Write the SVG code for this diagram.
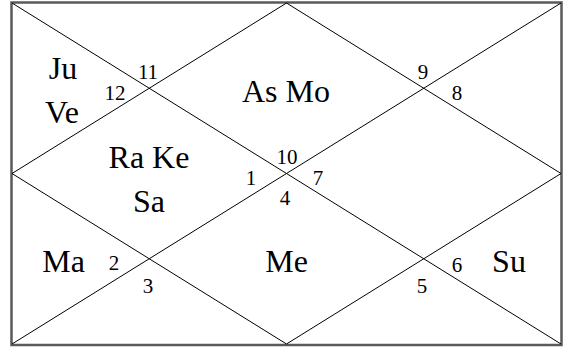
<svg xmlns="http://www.w3.org/2000/svg" width="566" height="347" viewBox="0 0 566 347">
<style>
.ln{stroke:#000;stroke-width:1;fill:none}
text{fill:#000;text-anchor:middle}
.pl{font-size:32px}
.nm{font-size:21px}
</style>
<rect x="0" y="0" width="566" height="347" fill="#fff"/>
<g id="connectors">
<rect x="11.5" y="2.5" width="550" height="342.5" fill="none" stroke="#5a5a5a" stroke-width="2.5"/>
<line class="ln" x1="12" y1="3" x2="561" y2="344"/>
<line class="ln" x1="561" y1="3" x2="12" y2="344"/>
<polygon class="ln" points="286.5,3 561,173.5 286.5,344 12,173.5"/>
</g>
<g font-family="Liberation Serif, DejaVu Serif, serif">
<g id="house1"><text class="pl" x="149" y="168">Ra Ke</text><text class="pl" x="149" y="212">Sa</text><text class="nm" x="251" y="185">1</text></g>
<g id="house2"><text class="pl" x="63" y="79">Ju</text><text class="pl" x="62" y="123">Ve</text><text class="nm" x="115" y="100">12</text></g>
<g id="house3"><text class="pl" x="286" y="102">As Mo</text><text class="nm" x="148" y="79">11</text><text class="nm" x="287" y="164">10</text><text class="nm" x="423" y="79">9</text></g>
<g id="house4"><text class="nm" x="457" y="100">8</text></g>
<g id="house5"><text class="nm" x="318" y="185">7</text></g>
<g id="house6"><text class="pl" x="509" y="272">Su</text><text class="nm" x="457" y="272">6</text></g>
<g id="house7"><text class="pl" x="286.5" y="272">Me</text><text class="nm" x="285" y="205">4</text><text class="nm" x="422" y="293">5</text><text class="nm" x="148" y="293">3</text></g>
<g id="house8"><text class="pl" x="63.5" y="272">Ma</text><text class="nm" x="114" y="270">2</text></g>
</g>
</svg>
